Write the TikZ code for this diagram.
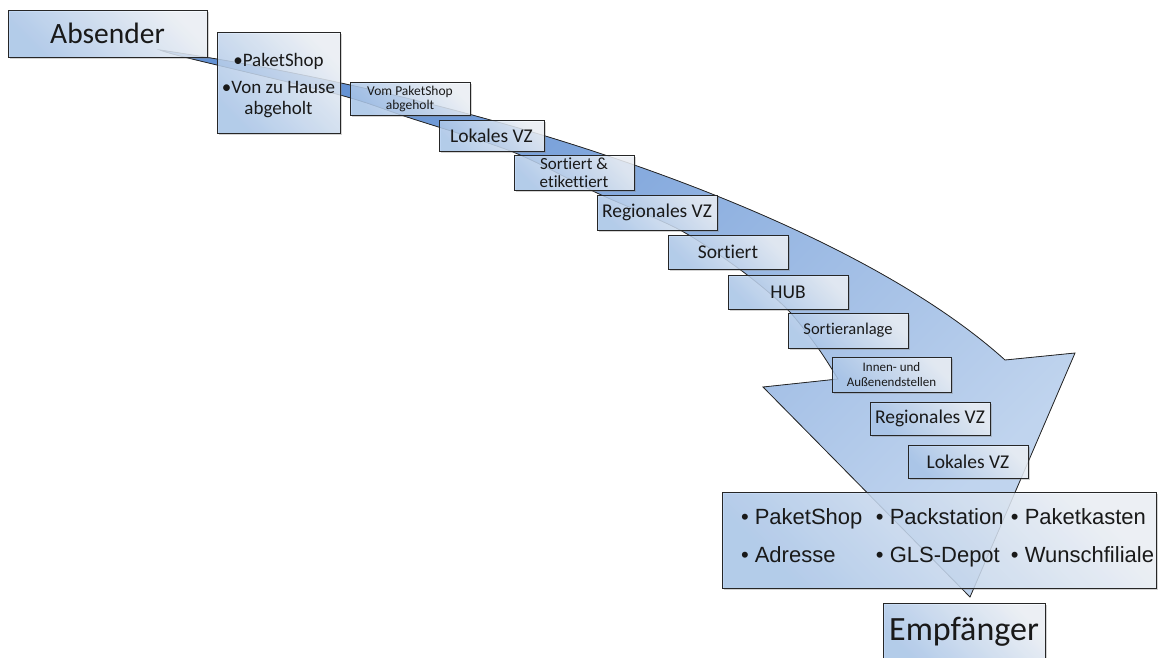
\documentclass[tikz,border=0pt]{standalone}
\usepackage{fontspec}
\setmainfont{Carlito}[Ligatures=NoCommon]
\newfontfamily\arialfont{Liberation Sans}
\usetikzlibrary{shadows}
\definecolor{boxblue}{RGB}{172,202,240}
\definecolor{arrowdark}{RGB}{100,146,212}
\definecolor{arrowlight}{RGB}{192,212,238}

\begin{document}
\begin{tikzpicture}[x=1pt,y=-1pt,
  every node/.style={font=\fontsize{19.5}{22}\selectfont,text=black!90},
  box/.style={draw=black!85,line width=0.8pt,inner sep=0pt,align=center,
    top color=boxblue!15,bottom color=boxblue,shading angle=-45,
    fill opacity=0.8,text opacity=1,
    drop shadow={shadow xshift=2pt,shadow yshift=-2pt,opacity=0.35}},
  sz/.style 2 args={minimum width=#1pt,minimum height=#2pt}]
  \useasboundingbox (0,0) rectangle (1158,657);

  \filldraw[draw=black!85,line width=0.8pt,top color=arrowdark,bottom color=arrowlight,shading angle=45]
    (160,50) .. controls (500,100) and (850,220) .. (1005,360)
    -- (1075,353) -- (970,597) -- (763,387) -- (838,379)
    -- plot[smooth] coordinates {(838,379) (818,348) (787,309) (742,271) (680,230) (597,193)
       (513,152) (407,117) (340,95) (188,58) (160,50)} -- cycle;

  \node[box,sz={199}{47},font=\fontsize{29.5}{31}\selectfont] (abs) at (107.5,33.5) {Absender};
  \node[box,sz={123}{101},font=\fontsize{19}{21}\selectfont] (shop) at (278.5,82.5)
    {\rule{0pt}{19pt}•PaketShop\\[6pt]•Von zu Hause\\abgeholt};
  \node[box,sz={120}{33},font=\fontsize{13.5}{14}\selectfont] (vom) at (410,98.5)
    {Vom PaketShop\\abgeholt};
  \node[box,sz={105}{31}] (lvz) at (491.5,135.5) {Lokales VZ};
  \node[box,sz={120}{35},font=\fontsize{17}{18}\selectfont] (eti) at (574,172.5)
    {Sortiert \&\\etikettiert};
  \node[box,sz={120}{35}] (rvz) at (657,212.5) {Regionales VZ};
  \node[box,sz={120}{34}] (sort) at (728,252) {Sortiert};
  \node[box,sz={120}{34}] (hub) at (788,292) {HUB};
  \node[box,sz={120}{35},font=\fontsize{16.5}{18}\selectfont] (anl) at (848,330.5) {Sortieranlage};
  \node[box,sz={119}{35},font=\fontsize{13}{15}\selectfont] (end) at (891.5,374.5)
    {Innen- und\\Außenendstellen};
  \node[box,sz={120}{33}] (rvz2) at (930,418.5) {Regionales VZ};
  \node[box,sz={120}{33}] (lvz2) at (968,461.5) {Lokales VZ};
  \node[box,sz={434}{96},font=\arialfont\fontsize{22}{38}\selectfont] (ziel) at (939,540)
    {\begin{tabular}{@{\hspace{19pt}}p{135pt}@{}p{135pt}@{}p{145pt}@{}}
     • PaketShop & • Packstation & • Paketkasten\\
     • Adresse & • GLS-Depot & • Wunschfiliale\\[8pt]
     \end{tabular}};
  \node[box,sz={162}{58},font=\fontsize{34}{36}\selectfont] (emp) at (964,632) {Empfänger};
\end{tikzpicture}
\end{document}
